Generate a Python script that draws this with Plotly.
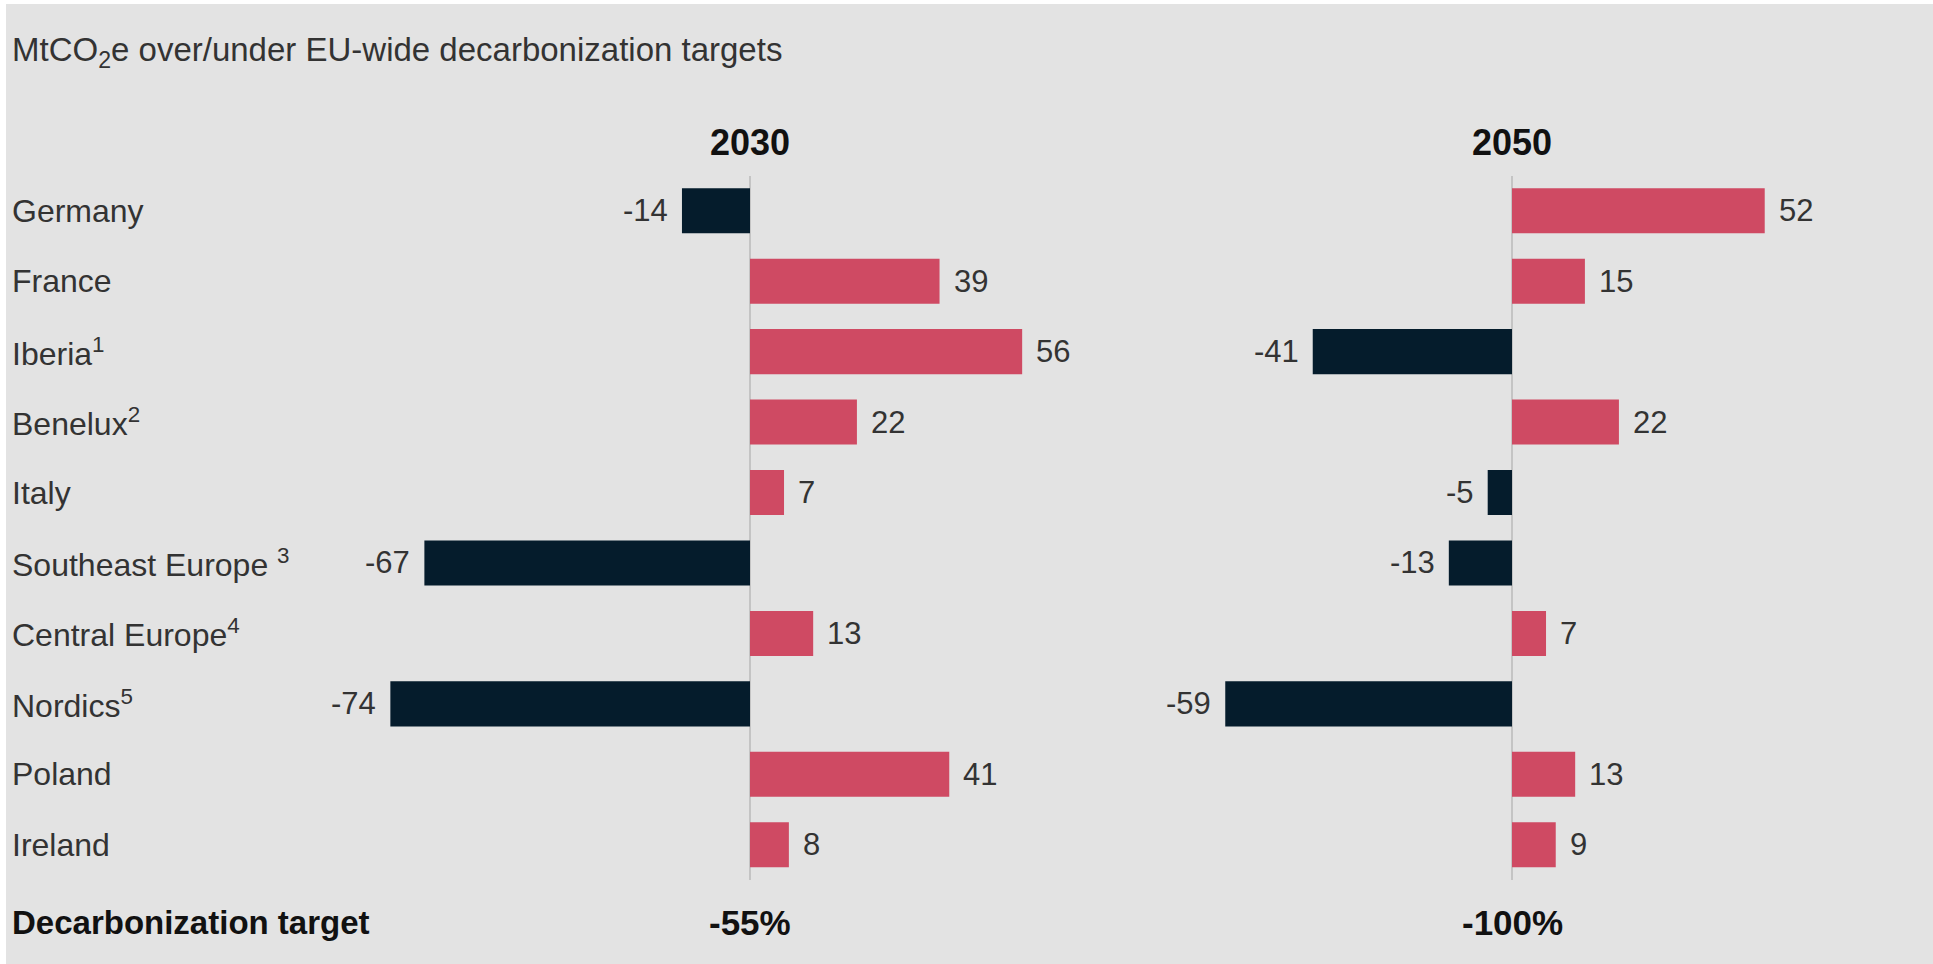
import plotly.graph_objects as go

# Regions and their over/under emissions vs EU-wide targets (MtCO2e)
regions = ["Germany", "France", "Iberia", "Benelux", "Italy",
           "Southeast Europe", "Central Europe", "Nordics", "Poland", "Ireland"]
region_labels = ["Germany", "France", "Iberia<sup>1</sup>", "Benelux<sup>2</sup>", "Italy",
                 "Southeast Europe <sup>3</sup>", "Central Europe<sup>4</sup>",
                 "Nordics<sup>5</sup>", "Poland", "Ireland"]
values_2030 = [-14, 39, 56, 22, 7, -67, 13, -74, 41, 8]
values_2050 = [52, 15, -41, 22, -5, -13, 7, -59, 13, 9]
years = ["2030", "2050"]
targets = ["-55%", "-100%"]

W, H = 1933, 964
BG = "#e3e3e3"
RED = "#cf4a63"
NAVY = "#051c2c"
TEXT = "#333333"
DARK = "#111111"
FONT = "Liberation Sans, Arial, sans-serif"


def px_x(p):
    return p / W


def px_y(p):
    return 1 - p / H


def bar_colors(vals):
    return [RED if v >= 0 else NAVY for v in vals]


fig = go.Figure()
for vals, xa in [(values_2030, "x"), (values_2050, "x2")]:
    fig.add_trace(go.Bar(
        x=vals, y=regions, orientation="h",
        marker=dict(color=bar_colors(vals), line=dict(width=0)),
        xaxis=xa, yaxis="y", hoverinfo="skip", showlegend=False,
    ))

annotations = []
# value labels next to each bar
for vals, xr in [(values_2030, "x"), (values_2050, "x2")]:
    for reg, v in zip(regions, vals):
        annotations.append(dict(
            x=v, y=reg, xref=xr, yref="y", text=str(v), showarrow=False,
            xanchor="left" if v >= 0 else "right", xshift=12 if v >= 0 else -12,
            font=dict(size=31, color=TEXT, family=FONT),
        ))

# row labels
for reg, lab in zip(regions, region_labels):
    annotations.append(dict(
        x=px_x(10), y=reg, xref="paper", yref="y", text=lab, showarrow=False,
        xanchor="left", font=dict(size=32, color=TEXT, family=FONT),
    ))

# panel headers and target row
for xr, yr, tg in [("x", years[0], targets[0]), ("x2", years[1], targets[1])]:
    annotations.append(dict(
        x=0, y=px_y(142), xref=xr, yref="paper", text=f"<b>{yr}</b>", showarrow=False,
        xanchor="center", yanchor="middle", font=dict(size=36, color=DARK, family=FONT),
    ))
    annotations.append(dict(
        x=0, y=px_y(922), xref=xr, yref="paper", text=f"<b>{tg}</b>", showarrow=False,
        xanchor="center", yanchor="middle", font=dict(size=35, color=DARK, family=FONT),
    ))

annotations.append(dict(
    x=px_x(10), y=px_y(922), xref="paper", yref="paper", text="<b>Decarbonization target</b>",
    showarrow=False, xanchor="left", yanchor="middle",
    font=dict(size=33, color=DARK, family=FONT),
))
annotations.append(dict(
    x=px_x(10), y=px_y(52), xref="paper", yref="paper",
    text="MtCO<sub>2</sub>e over/under EU-wide decarbonization targets",
    showarrow=False, xanchor="left", yanchor="middle",
    font=dict(size=33, color=TEXT, family=FONT),
))

axis_common = dict(
    showgrid=False, showticklabels=False, ticks="", showline=False,
    zeroline=True, zerolinecolor="#c4c4c4", zerolinewidth=1.5, fixedrange=True,
)

fig.update_layout(
    width=W, height=H,
    margin=dict(l=0, r=0, t=0, b=0),
    paper_bgcolor="white",
    plot_bgcolor="rgba(0,0,0,0)",
    bargap=0.36,
    xaxis=dict(domain=[px_x(361.2), px_x(1041.6)], range=[-80, 60], anchor="y", **axis_common),
    xaxis2=dict(domain=[px_x(1171.8), px_x(1852.2)], range=[-70, 70], anchor="y", **axis_common),
    yaxis=dict(domain=[px_y(880), px_y(175.5)], range=[9.5, -0.5], type="category",
               showgrid=False, showticklabels=False, ticks="", showline=False,
               zeroline=False, fixedrange=True),
    shapes=[dict(type="rect", xref="paper", yref="paper", x0=px_x(6), x1=1,
                 y0=0, y1=px_y(4), fillcolor=BG, line=dict(width=0), layer="below")],
    annotations=annotations,
    font=dict(family=FONT),
)

fig.write_html("out.html")
